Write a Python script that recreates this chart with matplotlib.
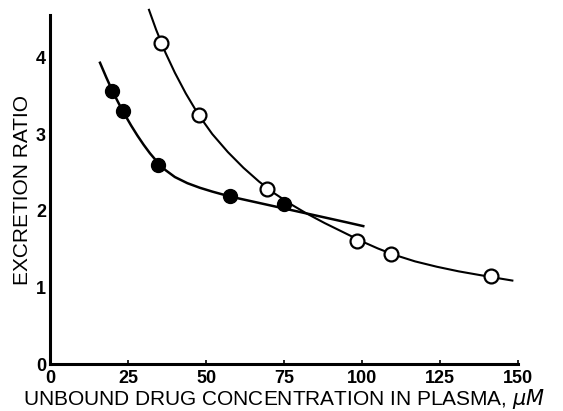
import matplotlib
matplotlib.use("Agg")
import matplotlib.pyplot as plt

# measured points
filled_x = [19.8, 23.3, 34.5, 57.7, 75.0]
filled_y = [3.56, 3.30, 2.60, 2.19, 2.09]
open_x = [35.6, 47.6, 69.5, 98.3, 109.2, 141.2]
open_y = [4.19, 3.25, 2.29, 1.61, 1.44, 1.15]

# fitted curves
filled_curve_x = [16, 18, 20, 22, 24, 26, 28, 30, 32, 34.5, 37, 40, 44, 48, 52, 56, 60, 65, 70, 75, 80, 85, 90, 95, 100.4]
filled_curve_y = [3.93, 3.74, 3.56, 3.40, 3.25, 3.11, 2.98, 2.86, 2.75, 2.63, 2.53, 2.44, 2.36, 2.30, 2.25, 2.205, 2.165, 2.12, 2.075, 2.03, 1.985, 1.94, 1.895, 1.85, 1.80]
open_curve_x = [31.7, 34, 37, 40, 43.5, 47.6, 52, 57, 62, 67, 72, 77, 82, 88, 94, 100, 105, 110, 117, 124, 131, 138, 143, 148.2]
open_curve_y = [4.62, 4.36, 4.06, 3.80, 3.53, 3.25, 3.00, 2.765, 2.56, 2.38, 2.225, 2.09, 1.97, 1.84, 1.72, 1.60, 1.51, 1.43, 1.34, 1.27, 1.21, 1.16, 1.125, 1.09]

plt.rcParams['font.family'] = ['Liberation Sans', 'DejaVu Sans']

fig = plt.figure(figsize=(5.63, 4.11), dpi=100)
ax = fig.add_axes([0.089, 0.114, 0.831, 0.849])

ax.plot(filled_curve_x, filled_curve_y, color='black', lw=1.8, zorder=2)
ax.plot(open_curve_x, open_curve_y, color='black', lw=1.5, zorder=2, clip_on=False)
ax.plot(filled_x, filled_y, 'o', ms=10, mfc='black', mec='black', zorder=3)
ax.plot(open_x, open_y, 'o', ms=10, mfc='white', mec='black', mew=1.6, zorder=3)

ax.set_xlim(0, 150)
ax.set_ylim(0, 4.55)
ax.set_xticks([0, 25, 50, 75, 100, 125, 150])
ax.set_yticks([0, 1, 2, 3, 4])
for s in ['top', 'right']:
    ax.spines[s].set_visible(False)
for s in ['left', 'bottom']:
    ax.spines[s].set_linewidth(2.2)
ax.tick_params(axis='x', direction='in', length=3, width=1.2, pad=4, labelsize=13)
ax.tick_params(axis='y', length=0, pad=3, labelsize=13)
for lab in ax.get_xticklabels() + ax.get_yticklabels():
    lab.set_fontweight('bold')

ax.set_xlabel('UNBOUND DRUG CONCENTRATION IN PLASMA, $\\mathit{\\mu M}$', fontsize=15, labelpad=0)
ax.set_ylabel('EXCRETION RATIO', fontsize=15, labelpad=3)

fig.savefig('out.png', dpi=100)
